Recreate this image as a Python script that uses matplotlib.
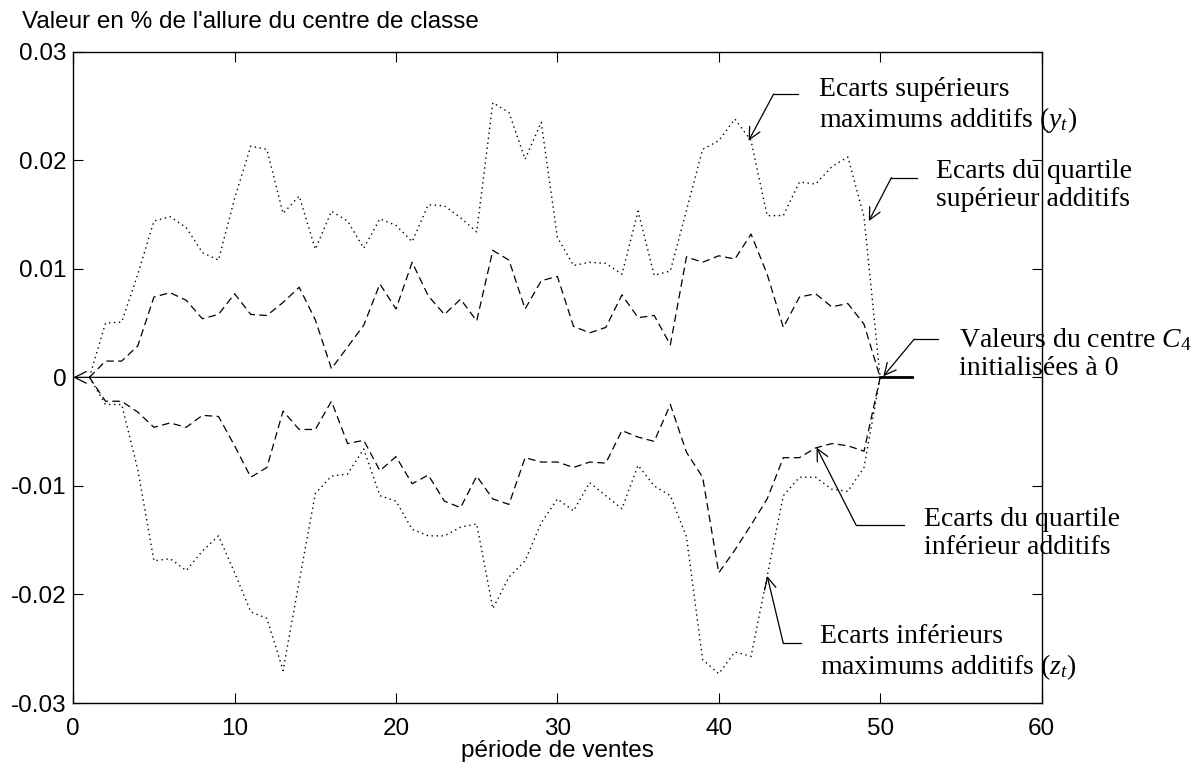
import matplotlib
matplotlib.use("Agg")
import matplotlib.pyplot as plt
import numpy as np

plt.rcParams['font.family'] = ['Liberation Sans', 'DejaVu Sans']
plt.rcParams['axes.unicode_minus'] = False
plt.rcParams['mathtext.fontset'] = 'custom'
plt.rcParams['mathtext.rm'] = 'Liberation Serif'
plt.rcParams['mathtext.it'] = 'Liberation Serif:italic'

# sales periods
periode = list(range(1, 51))

# upper max deviations (y_t)
ecart_sup_max = [0, 0.0050, 0.0051, 0.0095, 0.0144, 0.0148, 0.0138, 0.0115, 0.0108, 0.0165,
                 0.0213, 0.0210, 0.0151, 0.0167, 0.0118, 0.0153, 0.0144, 0.0119, 0.0146, 0.0140,
                 0.0125, 0.0159, 0.0158, 0.0147, 0.0134, 0.0253, 0.0244, 0.0201, 0.0235, 0.0129,
                 0.0103, 0.0106, 0.0105, 0.0095, 0.0153, 0.0094, 0.0098, 0.0154, 0.0210, 0.0218,
                 0.0238, 0.0218, 0.0149, 0.0149, 0.0180, 0.0178, 0.0194, 0.0203, 0.0148, 0]

# upper quartile deviations
ecart_q_sup = [0, 0.0015, 0.0015, 0.0029, 0.0074, 0.0078, 0.0071, 0.0054, 0.0058, 0.0077,
               0.0058, 0.0057, 0.0069, 0.0083, 0.0053, 0.0008, 0.0028, 0.0048, 0.0086, 0.0063,
               0.0106, 0.0075, 0.0058, 0.0072, 0.0052, 0.0117, 0.0108, 0.0063, 0.0089, 0.0093,
               0.0047, 0.0041, 0.0046, 0.0076, 0.0055, 0.0057, 0.0030, 0.0111, 0.0106, 0.0112,
               0.0109, 0.0132, 0.0095, 0.0046, 0.0074, 0.0077, 0.0065, 0.0068, 0.0049, 0]

# lower quartile deviations
ecart_q_inf = [0, -0.0022, -0.0022, -0.0032, -0.0046, -0.0042, -0.0046, -0.0035, -0.0036, -0.0063,
               -0.0092, -0.0083, -0.0031, -0.0048, -0.0048, -0.0022, -0.0061, -0.0058, -0.0086, -0.0073,
               -0.0098, -0.0090, -0.0114, -0.0120, -0.0091, -0.0112, -0.0117, -0.0074, -0.0078, -0.0078,
               -0.0083, -0.0078, -0.0079, -0.0049, -0.0055, -0.0059, -0.0025, -0.0069, -0.0092, -0.0180,
               -0.0159, -0.0136, -0.0112, -0.0074, -0.0074, -0.0065, -0.0061, -0.0063, -0.0068, 0]

# lower max deviations (z_t)
ecart_inf_max = [0, -0.0025, -0.0025, -0.0085, -0.0169, -0.0167, -0.0178, -0.0160, -0.0146, -0.0180,
                 -0.0216, -0.0222, -0.0270, -0.0188, -0.0107, -0.0091, -0.0089, -0.0066, -0.0109, -0.0114,
                 -0.0140, -0.0146, -0.0146, -0.0138, -0.0135, -0.0213, -0.0184, -0.0169, -0.0134, -0.0112,
                 -0.0123, -0.0097, -0.0109, -0.0121, -0.0081, -0.0100, -0.0109, -0.0147, -0.0260, -0.0273,
                 -0.0253, -0.0257, -0.0183, -0.0109, -0.0092, -0.0092, -0.0103, -0.0105, -0.0083, 0]

xticks = [0, 10, 20, 30, 40, 50, 60]
yticks = [0.03, 0.02, 0.01, 0, -0.01, -0.02, -0.03]
ytick_labels = ['0.03', '0.02', '0.01', '0', '-0.01', '-0.02', '-0.03']

fig = plt.figure(figsize=(11.97, 7.67), dpi=100)
ax = fig.add_axes([0.0612, 0.0834, 0.8089, 0.8492])

ax.plot(periode, ecart_sup_max, color='k', lw=1.0, dashes=(1, 2.6))
ax.plot(periode, ecart_inf_max, color='k', lw=1.0, dashes=(1, 2.6))
ax.plot(periode, ecart_q_sup, color='k', lw=0.9, dashes=(6, 3.5))
ax.plot(periode, ecart_q_inf, color='k', lw=0.9, dashes=(6, 3.5))

# centre line (initialised to 0)
ax.annotate('', xy=(0, 0), xytext=(52, 0),
            arrowprops=dict(arrowstyle='->,head_length=0.6,head_width=0.3', color='k',
                            lw=0.9, mutation_scale=14, shrinkA=0, shrinkB=0))
ax.plot([50, 52], [0, 0], color='k', lw=2)

ax.set_xlim(0, 60)
ax.set_ylim(-0.03, 0.03)
ax.set_xticks(xticks)
ax.set_yticks(yticks)
ax.set_yticklabels(ytick_labels)
ax.tick_params(direction='in', top=True, right=True, length=7, width=0.8,
               labelsize=17.5)
ax.tick_params(axis='x', pad=11)
ax.tick_params(axis='y', pad=5)
for s in ax.spines.values():
    s.set_linewidth(1.0)

ax.set_xlabel('période de ventes', fontsize=17.5, labelpad=0)
fig.text(22 / 1197, 1 - 22 / 767, "Valeur en % de l'allure du centre de classe",
         ha='left', va='center', fontsize=17.5)

serif = dict(fontsize=20, family='Liberation Serif', ha='left', va='center', linespacing=1.15)
arrow = dict(arrowstyle='->,head_length=0.6,head_width=0.3', color='k', lw=0.9,
             mutation_scale=14, shrinkA=0, shrinkB=0)

# annotations: (label, tip, elbow, end of horizontal stroke, text anchor)
notes = [
    ('Ecarts supérieurs\nmaximums additifs ($y_t$)', (41.85, 0.0218), (43.4, 0.0261), 44.9, (46.2, 0.0250)),
    ('Ecarts du quartile\nsupérieur additifs', (49.3, 0.0144), (50.7, 0.0184), 52.3, (53.45, 0.01765)),
    ('Valeurs du centre $C_{4}$\ninitialisées à 0', (50.2, 0.0001), (52.1, 0.0035), 53.6, (54.9, 0.0022)),
    ('Ecarts du quartile\ninférieur additifs', (46.06, -0.00646), (48.5, -0.01358), 51.5, (52.7, -0.0144)),
    ('Ecarts inférieurs\nmaximums additifs ($z_t$)', (43.0, -0.0183), (44.0, -0.0245), 45.07, (46.3, -0.0254)),
]
for label, tip, elbow, xend, txt in notes:
    ax.plot([elbow[0], xend], [elbow[1], elbow[1]], color='k', lw=0.9, clip_on=False)
    ax.annotate('', xy=tip, xytext=elbow, arrowprops=arrow, annotation_clip=False)
    ax.text(txt[0], txt[1], label, clip_on=False, **serif)

fig.savefig('out.png', dpi=100)
